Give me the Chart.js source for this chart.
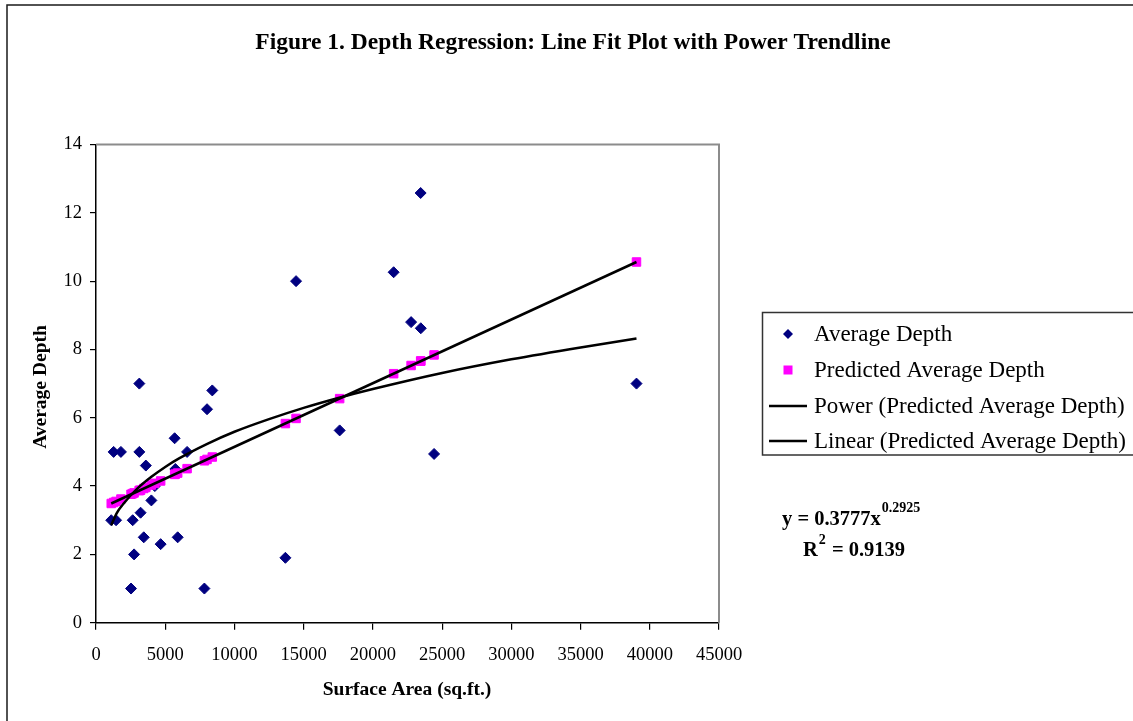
<!DOCTYPE html>
<html>
<head>
<meta charset="utf-8">
<title>Depth Regression</title>
<script src="https://cdn.jsdelivr.net/npm/chart.js@4/dist/chart.umd.min.js"></script>
<style>
    html, body { margin: 0; padding: 0; background: #fff; }
    #depthChart { display: block; }
</style>
</head>
<body>
<canvas id="depthChart" width="1133" height="721"></canvas>
<script>
// surface area (sq.ft.) of each site
var areas = [1100, 1275, 1450, 1800, 2530, 2650, 2750, 3130, 3130, 3220, 3450, 3600, 4000, 4250, 4670,
    5680, 5730, 5900, 6580, 7830, 8020, 8400, 13680, 14450, 17600, 21500, 22760, 23450, 23460, 24420, 39040];
var depths = [3, 5, 3, 5, 1, 3, 2, 7, 5, 3.22, 2.5, 4.6, 3.58, 4.0, 2.3,
    5.4, 4.5, 2.5, 5.0, 1, 6.25, 6.8, 1.9, 10, 5.63, 10.26, 8.8, 12.58, 8.62, 4.94, 7];
var predicted = [3.49, 3.52, 3.55, 3.62, 3.76, 3.78, 3.80, 3.87, 3.87, 3.88, 3.93, 3.96, 4.03, 4.08, 4.15,
    4.34, 4.35, 4.38, 4.51, 4.74, 4.78, 4.85, 5.83, 5.98, 6.56, 7.29, 7.53, 7.66, 7.66, 7.84, 10.56];

// trendlines
var powerX = [1100, 1500, 2000, 3000, 4000, 5000, 6000, 8000, 10000, 12500, 15000, 17500, 20000, 25000, 30000, 35000, 39040];
var powerY = [2.85, 3.21, 3.49, 3.93, 4.27, 4.56, 4.81, 5.23, 5.59, 5.96, 6.29, 6.58, 6.84, 7.31, 7.71, 8.06, 8.32];
var linearX = [1100, 39040];
var linearY = [3.49, 10.56];

var xTicks = [0, 5000, 10000, 15000, 20000, 25000, 30000, 35000, 40000, 45000];
var yTicks = [0, 2, 4, 6, 8, 10, 12, 14];

var color = {
    navy: '#000080',
    magenta: '#FF00FF',
    black: '#000000',
    grey: '#8c8c8c'
};
var serif = '"Liberation Serif", "Times New Roman", serif';

function points(xs, ys) {
    var out = [];
    for (var i = 0; i < xs.length; i++) out.push({x: xs[i], y: ys[i]});
    return out;
}

// frame, titles, legend and equation, Excel style
var decorations = {
    id: 'decorations',
    afterDraw: function (chart) {
        var c = chart.ctx;
        var a = chart.chartArea;
        c.save();

        // outer chart frame (runs off right/bottom)
        c.strokeStyle = '#1a1a1a';
        c.lineWidth = 1.5;
        c.strokeRect(7, 5, 1200, 800);

        // plot area border, top and right
        c.strokeStyle = color.grey;
        c.lineWidth = 2;
        c.beginPath();
        c.moveTo(a.left, a.top);
        c.lineTo(a.right, a.top);
        c.lineTo(a.right, a.bottom);
        c.stroke();

        c.fillStyle = color.black;
        c.textBaseline = 'middle';
        c.textAlign = 'center';
        c.font = 'bold 23.5px ' + serif;
        c.fillText('Figure 1. Depth Regression: Line Fit Plot with Power Trendline', 573, 43);

        c.font = 'bold 19.5px ' + serif;
        c.fillText('Surface Area (sq.ft.)', 407, 690);
        c.save();
        c.translate(41, 387);
        c.rotate(-Math.PI / 2);
        c.fillText('Average Depth', 0, 0);
        c.restore();

        // legend
        c.strokeStyle = '#333';
        c.lineWidth = 1.5;
        c.strokeRect(762.5, 312.5, 400, 142.5);
        var rows = [334, 370, 406, 441];
        var ds = chart.data.datasets;
        c.textAlign = 'left';
        c.font = '23px ' + serif;
        for (var i = 0; i < ds.length; i++) {
            var y = rows[i];
            if (i === 0) {
                c.fillStyle = color.navy;
                c.beginPath();
                c.moveTo(788, y - 5);
                c.lineTo(793, y);
                c.lineTo(788, y + 5);
                c.lineTo(783, y);
                c.closePath();
                c.fill();
            } else if (i === 1) {
                c.fillStyle = color.magenta;
                c.fillRect(783.5, y - 4.5, 9, 9);
            } else {
                c.strokeStyle = color.black;
                c.lineWidth = 2.5;
                c.beginPath();
                c.moveTo(769, y);
                c.lineTo(807, y);
                c.stroke();
            }
            c.fillStyle = color.black;
            c.fillText(ds[i].label, 814, y + 1);
        }

        // power trendline equation
        c.textBaseline = 'alphabetic';
        c.font = 'bold 20.5px ' + serif;
        var eq = 'y = 0.3777x';
        c.fillText(eq, 782, 525);
        var w = c.measureText(eq).width;
        c.font = 'bold 14px ' + serif;
        c.fillText('0.2925', 782 + w + 1, 512);

        c.font = 'bold 20.5px ' + serif;
        c.fillText('R', 803, 556);
        var rw = c.measureText('R').width;
        c.font = 'bold 14px ' + serif;
        c.fillText('2', 803 + rw + 1, 544);
        var sw = c.measureText('2').width;
        c.font = 'bold 20.5px ' + serif;
        c.fillText(' = 0.9139', 803 + rw + sw + 2, 556);

        c.restore();
    }
};

var ctx = document.getElementById('depthChart');
if (ctx != null) {
    window.myScatter = new Chart(ctx, {
        type: 'scatter',
        data: {
            datasets: [
                {
                    label: 'Average Depth',
                    data: points(areas, depths),
                    pointStyle: 'rectRot',
                    pointRadius: 5.5,
                    pointHoverRadius: 5.5,
                    pointBorderWidth: 1,
                    backgroundColor: color.navy,
                    borderColor: color.navy,
                    order: 3
                },
                {
                    label: 'Predicted Average Depth',
                    data: points(areas, predicted),
                    pointStyle: 'rect',
                    pointRadius: 6,
                    pointHoverRadius: 6,
                    pointBorderWidth: 1,
                    backgroundColor: color.magenta,
                    borderColor: color.magenta,
                    order: 2
                },
                {
                    label: 'Power (Predicted Average Depth)',
                    data: points(powerX, powerY),
                    showLine: true,
                    pointRadius: 0,
                    borderColor: color.black,
                    borderWidth: 2.5,
                    cubicInterpolationMode: 'monotone',
                    order: 1
                },
                {
                    label: 'Linear (Predicted Average Depth)',
                    data: points(linearX, linearY),
                    showLine: true,
                    pointRadius: 0,
                    borderColor: color.black,
                    borderWidth: 2.5,
                    order: 0
                }
            ]
        },
        options: {
            responsive: false,
            animation: false,
            devicePixelRatio: 1,
            layout: {
                padding: {top: 144.5, right: 414, left: 0, bottom: 0}
            },
            plugins: {
                legend: {display: false},
                title: {display: false},
                tooltip: {enabled: false}
            },
            scales: {
                x: {
                    type: 'linear',
                    min: 0,
                    max: 45000,
                    afterBuildTicks: function (scale) {
                        scale.ticks = xTicks.map(function (v) { return {value: v}; });
                    },
                    afterFit: function (scale) { scale.height = 98.3; },
                    ticks: {
                        color: color.black,
                        font: {family: serif, size: 18.5},
                        padding: 14,
                        maxRotation: 0,
                        callback: function (v) { return String(v); }
                    },
                    grid: {
                        display: true,
                        drawOnChartArea: false,
                        drawTicks: true,
                        tickLength: 7,
                        color: color.black,
                        lineWidth: 1.2
                    },
                    border: {display: true, color: color.black, width: 1.5}
                },
                y: {
                    type: 'linear',
                    min: 0,
                    max: 14,
                    afterBuildTicks: function (scale) {
                        scale.ticks = yTicks.map(function (v) { return {value: v}; });
                    },
                    afterFit: function (scale) { scale.width = 96; },
                    ticks: {
                        color: color.black,
                        font: {family: serif, size: 18.5},
                        padding: 8,
                        callback: function (v) { return String(v); }
                    },
                    grid: {
                        display: true,
                        drawOnChartArea: false,
                        drawTicks: true,
                        tickLength: 6,
                        color: color.black,
                        lineWidth: 1.2
                    },
                    border: {display: true, color: color.black, width: 1.5}
                }
            }
        },
        plugins: [decorations]
    });
}
</script>
</body>
</html>
